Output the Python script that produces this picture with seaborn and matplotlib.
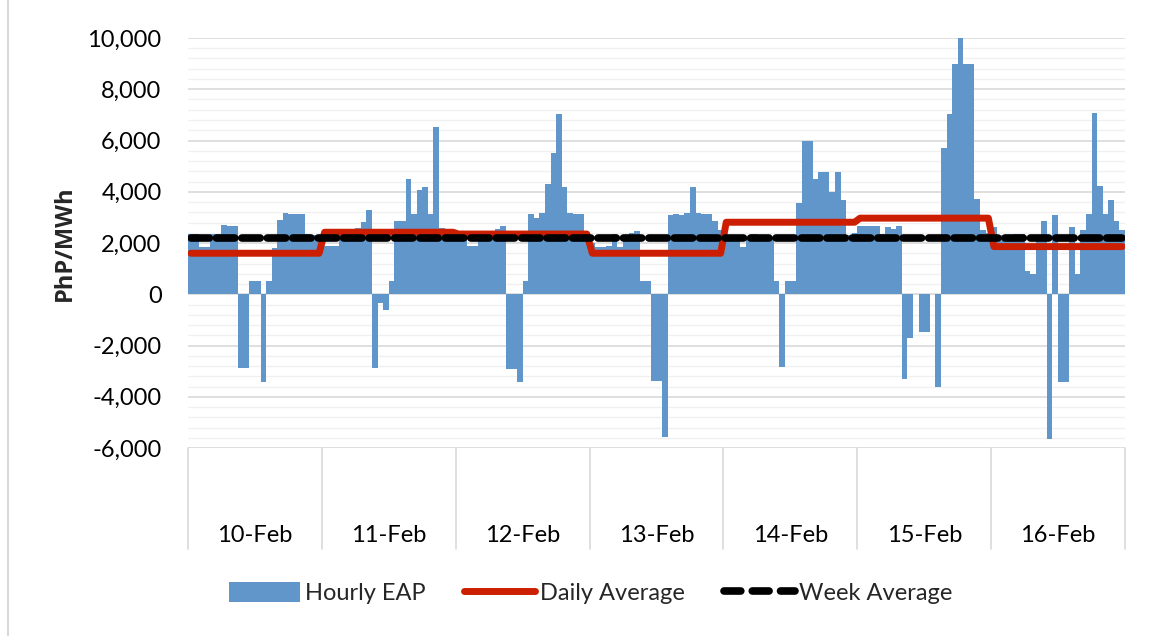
import matplotlib
matplotlib.use("Agg")
import matplotlib.pyplot as plt
from matplotlib.lines import Line2D
from matplotlib.patches import Patch
import matplotlib.transforms as mtrans
import numpy as np
import pandas as pd
import seaborn as sns

# ---------------- data ----------------
days = ["10-Feb", "11-Feb", "12-Feb", "13-Feb", "14-Feb", "15-Feb", "16-Feb"]

feb10 = [2350, 2350, 1850, 1850, 2350, 2350, 2700, 2650, 2650, -2860, -2860, 520,
         520, -3410, 520, 1800, 2890, 3190, 3140, 3140, 3140, 2350, 2300, 2300]
feb11 = [1900, 1900, 1900, 2400, 2560, 2560, 2600, 2810, 3280, -2890, -350, -610,
         520, 2860, 2860, 4490, 3150, 4080, 4190, 3150, 6520, 2580, 2550, 2400]
feb12 = [2350, 2300, 1880, 1880, 2300, 2300, 2300, 2540, 2660, -2920, -2920, -3420,
         520, 3125, 2960, 3190, 4300, 5520, 7040, 4190, 3190, 3140, 3140, 2300]
feb13 = [2000, 1850, 1850, 1900, 2350, 1850, 2300, 2400, 2450, 520, 520, -3400,
         -3400, -5590, 3090, 3125, 3100, 3190, 4190, 3190, 3140, 3140, 2860, 2510]
feb14 = [2200, 2250, 2250, 1850, 2200, 2350, 2300, 2250, 2200, 520, -2830, 520,
         520, 3570, 6000, 6000, 4480, 4790, 4790, 4000, 4790, 3670, 2300, 2400]
feb15 = [2680, 2680, 2680, 2680, 2350, 2620, 2550, 2680, -3320, -1720, 0, -1460,
         -1460, 0, -3630, 5700, 7020, 9000, 10000, 9000, 9000, 3700, 2500, 2400]
feb16 = [2640, 2300, 2300, 2300, 2350, 2350, 910, 780, 2300, 2860, -5650, 3090,
         -3440, -3440, 2630, 780, 2510, 3140, 7070, 4240, 3140, 3670, 2840, 2510]

daily_average = [1600, 2420, 2350, 1600, 2810, 2970, 1860]
week_average = 2200

y_ticks = [-6000, -4000, -2000, 0, 2000, 4000, 6000, 8000, 10000]

# ---------------- build frame ----------------
hourly = feb10 + feb11 + feb12 + feb13 + feb14 + feb15 + feb16
n_per_day = len(feb10)
hours = np.arange(len(hourly))
df = pd.DataFrame({
    "hour": hours,
    "eap": hourly,
    "daily": np.repeat(daily_average, n_per_day),
    "week": np.full(len(hourly), week_average),
})

BLUE = "#6096CA"
RED = "#CC1E00"
GRID = "#D9D9D9"
MINOR = "#F0F0F0"
FS = 17

sns.set_style("white")
plt.rcParams["font.family"] = ["Lato", "DejaVu Sans"]
plt.rcParams["axes.unicode_minus"] = False

W, H = 1157, 636
fig = plt.figure(figsize=(W / 100, H / 100), dpi=100)
ax = fig.add_axes([188 / W, 1 - 448 / H, (1125 - 188) / W, (448 - 38) / H])

sns.barplot(data=df, x="hour", y="eap", color=BLUE, width=1.0, saturation=1,
            linewidth=0, errorbar=None, ax=ax, zorder=2)
sns.lineplot(data=df, x="hour", y="daily", color=RED, linewidth=5, ax=ax,
             zorder=3, solid_capstyle="round", solid_joinstyle="round")
sns.lineplot(data=df, x="hour", y="week", color="black", linewidth=5.5, ax=ax,
             zorder=4)
wline = ax.lines[-1]
wline.set_dashes([2.4, 0.93])
wline.set_dash_capstyle("round")

ax.set_xlim(-0.5, len(hourly) - 0.5)
ax.set_ylim(y_ticks[0], y_ticks[-1])
ax.set_yticks(y_ticks)
ax.set_yticks(np.arange(y_ticks[0], y_ticks[-1] + 1, 400), minor=True)
ax.set_yticklabels([f"{v:,}" for v in y_ticks])
ax.set_axisbelow(True)
ax.grid(False)
ax.yaxis.grid(True, which="minor", color=MINOR, lw=1, zorder=0)
ax.yaxis.grid(True, which="major", color=GRID, lw=1.2, zorder=0)
for s in ax.spines.values():
    s.set_visible(False)
ax.set_xticks([])
ax.set_xlabel("")
ax.set_ylabel("")
ax.tick_params(axis="y", which="both", length=0, pad=19, labelsize=FS,
               labelcolor="black")
if ax.get_legend():
    ax.get_legend().remove()

# category area beneath the plot
trans = mtrans.blended_transform_factory(ax.transData, ax.transAxes)
depth = (549 - 448) / (448 - 38)
for d in range(len(days) + 1):
    xb = d * n_per_day - 0.5
    ax.plot([xb, xb], [0, -depth], color=GRID, lw=1.2, transform=trans,
            clip_on=False, zorder=1)
lab_y = -(536 - 448) / (448 - 38)
for d, name in enumerate(days):
    ax.text(d * n_per_day + (n_per_day - 1) / 2, lab_y, name, transform=trans,
            ha="center", va="center", fontsize=FS, color="black")

fig.text(65 / W, 1 - 243 / H, "PhP/MWh", rotation=90, ha="center", va="center",
         fontsize=FS, fontweight="bold", family=["Open Sans", "DejaVu Sans"])

# outer chart border (left edge visible)
fig.add_artist(Line2D([8 / W, 8 / W], [0, 1], color=GRID, lw=1.5,
                      transform=fig.transFigure))

handles = [
    Patch(facecolor=BLUE, edgecolor="none"),
    Line2D([0], [0], color=RED, lw=5, solid_capstyle="round"),
    Line2D([0], [0], color="black", lw=5.5, dashes=[2.2, 1.5],
           dash_capstyle="round"),
]
fig.legend(handles, ["Hourly EAP", "Daily Average", "Week Average"],
           loc="center", bbox_to_anchor=(591 / W, 1 - 593 / H), ncol=3,
           frameon=False, fontsize=FS, handlelength=3.0, handleheight=0.95,
           handletextpad=0.2, columnspacing=1.65)

fig.savefig("out.png", dpi=100, facecolor="white")
